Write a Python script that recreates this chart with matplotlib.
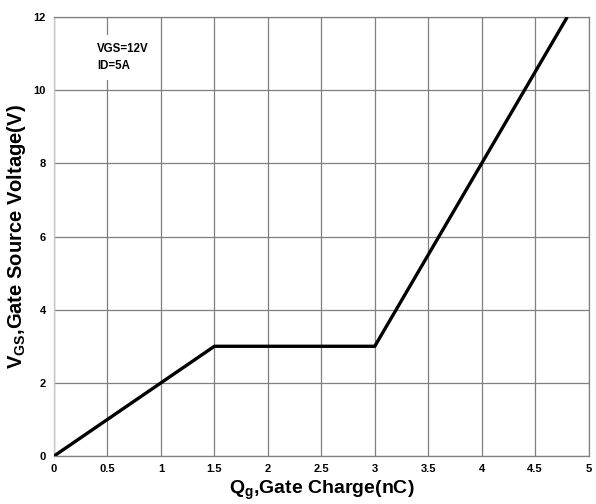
import matplotlib
matplotlib.use("Agg")
import matplotlib.pyplot as plt

plt.rcParams["font.family"] = ["Liberation Sans", "DejaVu Sans"]
plt.rcParams["mathtext.fontset"] = "custom"
plt.rcParams["mathtext.rm"] = "Liberation Sans:bold"
plt.rcParams["mathtext.bf"] = "Liberation Sans:bold"
plt.rcParams["mathtext.it"] = "Liberation Sans:bold"

# gate charge curve (corner points)
qg = [0, 1.5, 3.0, 4.8]
vgs = [0, 3.0, 3.0, 12.0]

xticks = [0, 0.5, 1, 1.5, 2, 2.5, 3, 3.5, 4, 4.5, 5]
xtick_labels = ["0", "0.5", "1", "1.5", "2", "2.5", "3", "3.5", "4", "4.5", "5"]
yticks = [0, 2, 4, 6, 8, 10, 12]

fig = plt.figure(figsize=(5.96, 5.04), dpi=100)
ax = fig.add_axes([0.0906, 0.0952, 0.897, 0.871])

ax.plot(qg, vgs, color="black", linewidth=2.4, solid_capstyle="butt", zorder=3)

ax.set_xlim(0, 5)
ax.set_ylim(0, 12)
ax.set_xticks(xticks)
ax.set_xticklabels(xtick_labels)
ax.set_yticks(yticks)
ax.grid(True, color="#7f7f7f", linewidth=0.9)
ax.set_axisbelow(True)
ax.tick_params(length=0, labelsize=8, pad=6)
for lbl in ax.get_xticklabels() + ax.get_yticklabels():
    lbl.set_fontweight("bold")

for side in ["top", "right", "bottom"]:
    ax.spines[side].set_color("#7f7f7f")
    ax.spines[side].set_linewidth(0.9)
ax.spines["left"].set_color("#c8c8c8")
ax.spines["left"].set_linewidth(1.0)

ax.set_xlabel(r"Q$_{\mathbf{g}}$,Gate Charge(nC)", fontsize=14, fontweight="bold", labelpad=3)
ax.set_ylabel(r"V$_{\mathbf{GS}}$,Gate Source Voltage(V)", fontsize=14.5, fontweight="bold", labelpad=4)

ax.text(0.4, 10.9, "VGS=12V\nID=5A", fontsize=8.3, fontweight="bold",
        ha="left", va="center", linespacing=1.5,
        bbox=dict(facecolor="white", edgecolor="none", pad=6), zorder=2)

fig.savefig("out.png", dpi=100)
